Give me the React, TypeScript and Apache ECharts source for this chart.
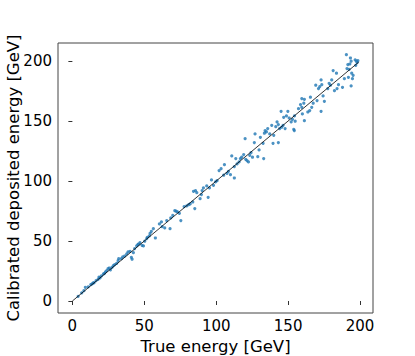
import React, { useEffect, useRef } from "react";
import * as echarts from "echarts";

const trueEnergy = [
  4.0, 6.5, 8.0, 9.0, 11.0, 12.8, 13.7, 14.5, 15.1, 16.5, 17.9, 18.5, 19.2, 20.2, 21.6, 22.3, 23.0, 23.9, 24.8, 25.7,
  26.5, 27.6, 28.5, 29.4, 30.8, 31.8, 32.2, 34.1, 35.0, 36.4, 37.8, 38.7, 40.1, 41.0, 41.5, 42.4, 43.3, 44.7, 45.5, 46.1,
  47.0, 48.4, 49.4, 50.3, 51.7, 52.1, 53.5, 54.0, 54.9, 56.3, 57.7,
  60.5, 61.9, 62.4, 64.2, 65.6, 67.9, 68.4, 69.8, 71.2, 72.1, 73.1, 74.4, 75.4, 77.7, 79.5, 80.9, 81.9, 83.7, 84.2, 85.6,
  86.5, 85.1, 88.8, 89.7, 90.2, 91.1, 93.4, 94.4, 95.3, 96.7, 98.1, 99.5,
  100.6, 102.0, 103.4, 105.2, 105.7, 107.5, 108.5, 109.9, 110.8, 112.6, 112.6, 113.6, 114.5, 115.9, 116.8, 117.7, 119.1,
  120.1, 120.5, 121.4, 122.4, 123.3, 124.2, 125.2, 126.5, 127.0, 128.9, 129.8, 130.7, 133.0, 132.6, 133.5, 134.0, 134.9,
  135.8, 137.2, 138.6, 139.5, 140.0, 141.4, 142.3, 143.2, 143.2, 144.1, 145.1, 145.5, 146.5, 146.9, 147.9,
  148.8, 149.8, 150.7, 152.1, 153.0, 153.9, 154.3, 154.4, 154.9, 157.2, 158.6, 159.5, 159.5, 159.9, 160.9, 161.3, 161.3,
  163.7, 165.0, 165.5, 166.4, 167.4, 169.2, 170.1, 171.1, 172.0, 172.9, 172.9, 173.4, 174.3, 175.2, 177.6, 178.5, 179.4,
  180.3, 181.3, 182.2, 183.6, 184.0, 185.0, 187.8, 189.1, 190.5, 190.9, 191.5, 191.9, 192.4, 192.9, 193.3, 193.8, 193.8,
  194.2, 194.7, 195.2, 196.6, 197.0, 197.5, 198.0, 198.5,
];

const recoEnergy = [
  3.9, 6.8, 8.6, 11.4, 11.8, 13.7, 14.2, 15.0, 15.3, 17.0, 18.1, 19.8, 19.2, 20.9, 22.5, 23.0, 24.2, 25.3, 27.0, 27.5,
  26.0, 28.1, 29.5, 30.3, 31.4, 33.6, 35.3, 35.3, 36.8, 37.5, 39.2, 40.9, 41.4, 36.4, 34.8, 40.3, 43.7, 45.9, 47.0, 47.5,
  48.7, 46.4, 45.9, 49.8, 52.0, 53.1, 54.2, 56.4, 58.1, 60.3, 52.5,
  64.2, 65.9, 62.0, 60.9, 67.0, 60.3, 69.2, 71.4, 75.3, 74.8, 74.2, 73.1, 67.0, 78.7, 79.2, 80.3, 80.9, 82.5, 91.4, 92.0,
  90.3, 77.0, 85.3, 88.7, 92.0, 94.2, 95.9, 86.4, 94.2, 100.9, 96.4, 99.2,
  100.3, 108.7, 110.3, 104.8, 113.6, 106.4, 108.1, 105.3, 120.9, 102.5, 112.0, 118.7, 114.2, 115.9, 118.7, 119.8, 122.0,
  135.3, 118.1, 117.0, 115.9, 121.4, 123.6, 119.8, 132.0, 139.2, 120.3, 125.9, 136.4, 118.7, 131.4, 139.8, 142.0, 140.9,
  143.7, 139.2, 146.4, 131.4, 138.1, 145.3, 149.2, 132.0, 147.0, 143.7, 158.1, 144.8, 146.4, 153.1, 143.7,
  154.2, 158.1, 152.5, 149.2, 151.4, 143.1, 142.0, 154.2, 149.8, 160.3, 163.7, 161.4, 168.7, 155.9, 164.8, 168.1, 150.3,
  157.5, 158.7, 169.8, 161.4, 164.8, 179.8, 167.0, 177.0, 178.7, 184.2, 158.1, 180.3, 170.9, 166.4, 177.0, 181.4, 179.8,
  184.2, 192.0, 175.3, 189.8, 177.0, 180.3, 178.1, 185.3, 205.3, 193.7, 197.0, 186.4, 193.1, 197.5, 202.5, 199.8, 179.2,
  189.8, 185.3, 188.1, 200.9, 196.4, 199.8, 198.7, 200.3,
];

const idealLine = [0, 199];
const xTicks = [0, 50, 100, 150, 200];
const yTicks = [0, 50, 100, 150, 200];

const FONT = "DejaVu Sans";

export default function App() {
  const ref = useRef<HTMLDivElement>(null);
  useEffect(() => {
    if (!ref.current) return;
    const chart = echarts.init(ref.current, null, { renderer: "svg" });
    const points = trueEnergy.map((x, i) => [x, recoEnergy[i]]);
    const axisCommon = {
      type: "value" as const,
      splitLine: { show: false },
      axisLine: { show: false },
      nameTextStyle: { fontFamily: FONT, fontSize: 16.5, color: "#000" },
    };
    chart.setOption({
      animation: false,
      backgroundColor: "#fff",
      grid: {
        left: 58,
        top: 43,
        width: 315,
        height: 270,
        containLabel: false,
        outerBoundsMode: "none",
        show: true,
        borderColor: "#444",
        borderWidth: 1,
        backgroundColor: "transparent",
      },
      xAxis: {
        ...axisCommon,
        min: -10,
        max: 209,
        name: "True energy [GeV]",
        nameLocation: "middle",
        nameGap: 21,
        axisTick: { show: true, inside: false, length: 4, customValues: xTicks, lineStyle: { color: "#333" } },
        axisLabel: { customValues: xTicks, fontFamily: FONT, fontSize: 15, color: "#000", margin: 5 },
      },
      yAxis: {
        ...axisCommon,
        min: -10,
        max: 215,
        name: "Calibrated deposited energy [GeV]",
        nameLocation: "middle",
        nameMoveOverlap: false,
        nameGap: 36,
        axisTick: { show: true, inside: false, length: 4, customValues: yTicks, lineStyle: { color: "#333" } },
        axisLabel: { customValues: yTicks, fontFamily: FONT, fontSize: 15, color: "#000", margin: 6 },
      },
      series: [
        {
          type: "scatter",
          data: points,
          symbol: "circle",
          symbolSize: 3.2,
          itemStyle: { color: "#1f77b4" },
        },
        {
          type: "line",
          data: idealLine.map((v) => [v, v]),
          symbol: "none",
          lineStyle: { color: "#000", width: 0.8 },
          z: 3,
        },
      ],
    });
    return () => chart.dispose();
  }, []);
  return (
    <div
      ref={ref}
      style={{ position: "fixed", left: 0, top: 0, width: 415, height: 356 }}
    />
  );
}
